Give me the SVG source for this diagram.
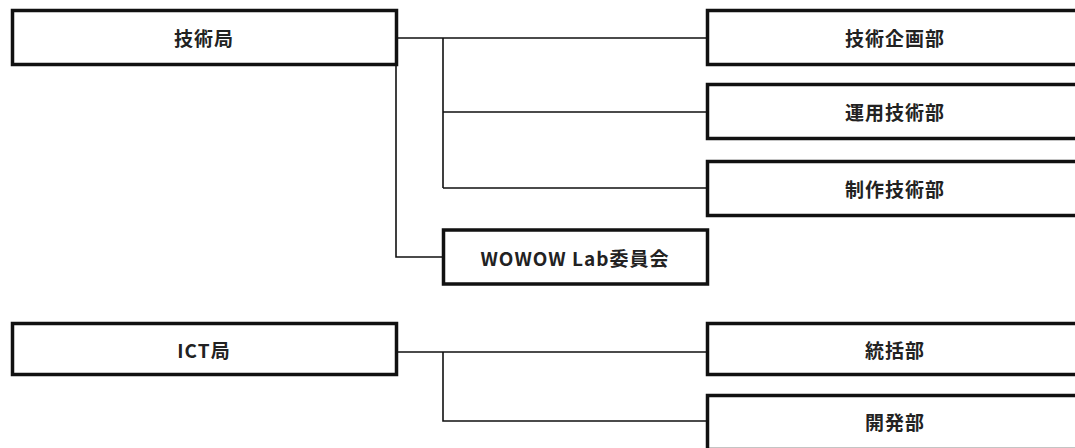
<svg xmlns="http://www.w3.org/2000/svg" width="1075" height="448" viewBox="0 0 1075 448">
<style>
.box{fill:#fff;stroke:#111;stroke-width:3.5}
.lbl{font-family:"Noto Sans CJK JP","Noto Sans",sans-serif;font-weight:bold;font-size:19px;letter-spacing:1px;fill:#222;text-anchor:middle;dominant-baseline:central}
.conn{fill:none;stroke:#111;stroke-width:1.6}
</style>
<rect width="1075" height="448" fill="#fff"/>
<g id="connectors">
<path class="conn" d="M396 38 H707 M443 38 V188 M443 112 H707 M443 188 H707 M396 64 V257 H443"/>
<path class="conn" d="M396 352 H707 M443 352 V421 H707"/>
</g>
<g id="n-gijutsukyoku"><rect class="box" x="12.5" y="10.5" width="384" height="54"/><text class="lbl" x="204" y="37">技術局</text></g>
<g id="n-kikaku"><rect class="box" x="707.5" y="10.5" width="380" height="54"/><text class="lbl" x="895" y="37">技術企画部</text></g>
<g id="n-unyo"><rect class="box" x="707.5" y="84.5" width="380" height="54"/><text class="lbl" x="895" y="111">運用技術部</text></g>
<g id="n-seisaku"><rect class="box" x="707.5" y="161.5" width="380" height="54"/><text class="lbl" x="895" y="188">制作技術部</text></g>
<g id="n-lab"><rect class="box" x="443.5" y="230" width="264" height="54"/><text class="lbl" x="575" y="257">WOWOW Lab委員会</text></g>
<g id="n-ict"><rect class="box" x="12.5" y="323.5" width="384" height="51"/><text class="lbl" x="204" y="349">ICT局</text></g>
<g id="n-tokatsu"><rect class="box" x="707.5" y="323.5" width="380" height="51"/><text class="lbl" x="895" y="349">統括部</text></g>
<g id="n-kaihatsu"><rect class="box" x="707.5" y="395.5" width="380" height="54"/><text class="lbl" x="895" y="421">開発部</text></g>
</svg>
